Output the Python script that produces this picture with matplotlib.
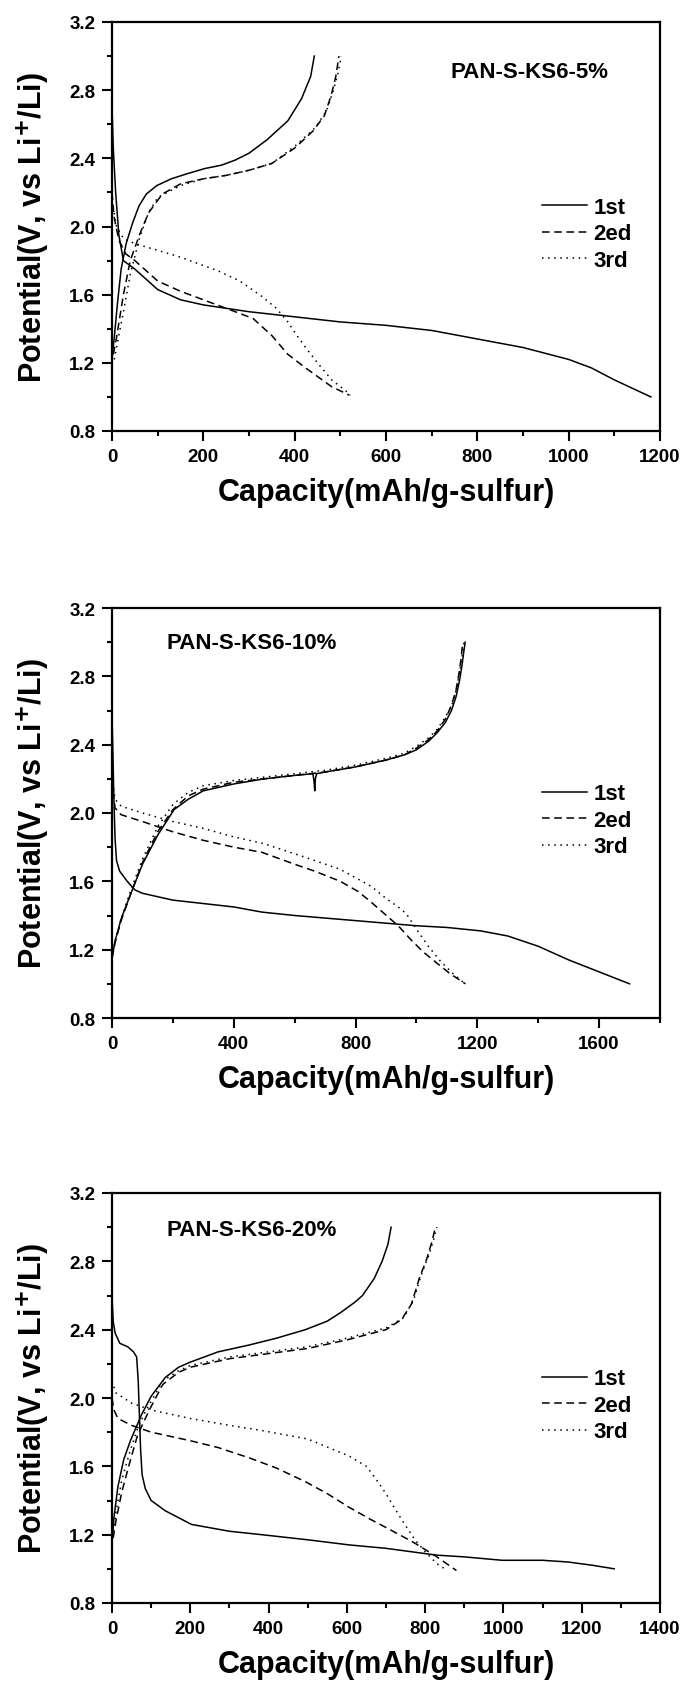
import matplotlib
matplotlib.use("Agg")
import matplotlib.pyplot as plt
from matplotlib.ticker import MultipleLocator, FormatStrFormatter

plt.rcParams['font.family'] = ['Liberation Sans', 'DejaVu Sans']
plt.rcParams['font.weight'] = 'bold'

# ---- PAN-S-KS6-5% ----
a_d1_x = [0, 3, 8, 15, 25, 50, 75, 100, 150, 200, 300, 400, 500, 600, 700, 800, 900, 1000, 1050, 1100, 1180]
a_d1_y = [2.70, 2.45, 2.2, 1.95, 1.80, 1.75, 1.69, 1.63, 1.57, 1.54, 1.50, 1.47, 1.44, 1.42, 1.39, 1.34, 1.29, 1.22, 1.17, 1.10, 1.00]
a_c1_x = [0, 5, 12, 20, 31, 45, 59, 75, 98, 130, 165, 203, 240, 270, 300, 340, 385, 415, 435, 443]
a_c1_y = [1.22, 1.35, 1.55, 1.75, 1.90, 2.02, 2.12, 2.19, 2.24, 2.28, 2.31, 2.34, 2.36, 2.39, 2.43, 2.51, 2.62, 2.75, 2.88, 3.00]
a_d2_x = [0, 5, 15, 30, 50, 75, 100, 150, 200, 250, 309, 350, 385, 424, 481, 520]
a_d2_y = [2.2, 2.05, 1.92, 1.84, 1.80, 1.74, 1.68, 1.62, 1.57, 1.52, 1.46, 1.36, 1.25, 1.17, 1.06, 1.01]
a_c2_x = [3, 10, 25, 40, 60, 80, 110, 150, 200, 250, 300, 350, 400, 440, 465, 480, 490, 497]
a_c2_y = [1.25, 1.35, 1.6, 1.8, 1.95, 2.08, 2.19, 2.25, 2.28, 2.30, 2.33, 2.37, 2.46, 2.56, 2.65, 2.77, 2.88, 3.0]
a_d3_x = [0, 10, 25, 50, 100, 150, 232, 280, 328, 360, 385, 405, 424, 450, 481, 510, 522]
a_d3_y = [2.15, 2.0, 1.93, 1.90, 1.86, 1.82, 1.74, 1.68, 1.59, 1.52, 1.44, 1.36, 1.29, 1.20, 1.10, 1.04, 1.01]
a_c3_x = [5, 12, 25, 40, 60, 80, 100, 150, 200, 250, 300, 350, 400, 445, 470, 485, 495, 502]
a_c3_y = [1.22, 1.32, 1.5, 1.72, 1.93, 2.08, 2.17, 2.24, 2.28, 2.30, 2.33, 2.37, 2.47, 2.58, 2.68, 2.8, 2.9, 3.0]

# ---- PAN-S-KS6-10% ----
b_d1_x = [0, 3, 6, 10, 15, 25, 50, 75, 100, 200, 300, 400, 492, 600, 800, 1000, 1100, 1211, 1300, 1400, 1500, 1600, 1700]
b_d1_y = [2.57, 2.35, 2.1, 1.85, 1.72, 1.66, 1.60, 1.55, 1.53, 1.49, 1.47, 1.45, 1.42, 1.40, 1.37, 1.34, 1.33, 1.31, 1.28, 1.22, 1.14, 1.07, 1.00]
b_c1_x = [0, 10, 30, 60, 100, 150, 204, 250, 300, 400, 500, 600, 660, 664, 666, 668, 672, 700, 800, 900, 960, 1000, 1040, 1068, 1095, 1115, 1130, 1142, 1150, 1156, 1160]
b_c1_y = [1.15, 1.25, 1.38, 1.52, 1.70, 1.87, 2.02, 2.08, 2.13, 2.17, 2.20, 2.22, 2.23, 2.18, 2.13, 2.2, 2.23, 2.24, 2.27, 2.31, 2.34, 2.37, 2.42, 2.47, 2.53, 2.60, 2.68, 2.78, 2.87, 2.95, 3.0]
b_d2_x = [0, 5, 10, 30, 100, 200, 300, 400, 492, 600, 665, 750, 809, 850, 895, 940, 981, 1020, 1068, 1110, 1161]
b_d2_y = [2.2, 2.1, 2.03, 1.99, 1.95, 1.89, 1.84, 1.80, 1.77, 1.70, 1.66, 1.60, 1.54, 1.48, 1.41, 1.34, 1.26, 1.19, 1.12, 1.06, 1.00]
b_c2_x = [0, 10, 30, 60, 100, 150, 200, 250, 300, 400, 500, 600, 700, 800, 900, 960, 1000, 1040, 1068, 1095, 1115, 1130, 1140, 1147, 1152]
b_c2_y = [1.15, 1.24, 1.37, 1.52, 1.71, 1.89, 2.02, 2.10, 2.14, 2.18, 2.20, 2.22, 2.24, 2.27, 2.31, 2.34, 2.38, 2.43, 2.48, 2.55, 2.63, 2.72, 2.82, 2.91, 3.0]
b_d3_x = [0, 5, 10, 30, 100, 200, 300, 400, 500, 636, 750, 852, 900, 940, 967, 1000, 1039, 1080, 1120, 1160]
b_d3_y = [2.25, 2.15, 2.08, 2.04, 2.00, 1.95, 1.91, 1.86, 1.82, 1.74, 1.67, 1.57, 1.50, 1.45, 1.41, 1.32, 1.22, 1.13, 1.06, 1.00]
b_c3_x = [0, 10, 30, 60, 100, 150, 200, 250, 300, 400, 500, 600, 700, 800, 900, 960, 1000, 1040, 1068, 1095, 1118, 1132, 1143, 1150, 1156]
b_c3_y = [1.15, 1.25, 1.38, 1.54, 1.73, 1.92, 2.05, 2.12, 2.16, 2.19, 2.21, 2.23, 2.25, 2.28, 2.32, 2.35, 2.39, 2.44, 2.49, 2.56, 2.64, 2.73, 2.83, 2.92, 3.0]

# ---- PAN-S-KS6-20% ----
c_d1_x = [0, 3, 8, 20, 40, 55, 63, 67, 70, 73, 77, 85, 100, 136, 203, 300, 382, 500, 606, 700, 830, 900, 997, 1100, 1165, 1230, 1283]
c_d1_y = [2.6, 2.45, 2.38, 2.32, 2.30, 2.27, 2.24, 2.1, 1.9, 1.7, 1.55, 1.47, 1.40, 1.34, 1.26, 1.22, 1.20, 1.17, 1.14, 1.12, 1.08, 1.07, 1.05, 1.05, 1.04, 1.02, 1.00]
c_c1_x = [0, 5, 15, 30, 47, 75, 100, 136, 170, 200, 271, 350, 420, 494, 550, 584, 620, 640, 670, 690, 705, 713]
c_c1_y = [1.15, 1.30, 1.48, 1.64, 1.75, 1.90, 2.01, 2.12, 2.18, 2.21, 2.27, 2.31, 2.35, 2.40, 2.45, 2.50, 2.56, 2.60, 2.70, 2.80, 2.90, 3.0]
c_d2_x = [0, 5, 15, 50, 100, 200, 271, 350, 420, 494, 550, 606, 660, 718, 774, 830, 880]
c_d2_y = [2.0, 1.93, 1.88, 1.84, 1.80, 1.75, 1.71, 1.65, 1.59, 1.51, 1.44, 1.36, 1.29, 1.22, 1.15, 1.07, 0.99]
c_c2_x = [3, 10, 25, 45, 65, 85, 100, 130, 170, 200, 300, 400, 500, 600, 700, 740, 765, 785, 805, 818, 826]
c_c2_y = [1.18, 1.28, 1.45, 1.62, 1.78, 1.88, 1.95, 2.08, 2.15, 2.18, 2.23, 2.26, 2.29, 2.34, 2.40, 2.46, 2.55, 2.70, 2.82, 2.92, 3.0]
c_d3_x = [0, 10, 50, 100, 200, 300, 382, 500, 606, 650, 673, 700, 718, 745, 774, 800, 830, 850]
c_d3_y = [2.10, 2.03, 1.97, 1.93, 1.88, 1.84, 1.81, 1.76, 1.66, 1.60, 1.53, 1.44, 1.37, 1.27, 1.17, 1.10, 1.03, 1.00]
c_c3_x = [3, 10, 25, 45, 65, 85, 100, 130, 170, 200, 300, 400, 500, 600, 700, 745, 770, 790, 810, 822, 830]
c_c3_y = [1.22, 1.33, 1.52, 1.68, 1.82, 1.92, 1.98, 2.10, 2.16, 2.19, 2.24, 2.27, 2.30, 2.35, 2.41, 2.47, 2.57, 2.72, 2.84, 2.93, 3.0]

titles = ['PAN-S-KS6-5%', 'PAN-S-KS6-10%', 'PAN-S-KS6-20%']
xmax = [1200, 1800, 1400]
xmajor = [200, 400, 200]
cycle_labels = ['1st', '2ed', '3rd']

panels = [
    [(a_d1_x, a_d1_y, a_c1_x, a_c1_y), (a_d2_x, a_d2_y, a_c2_x, a_c2_y), (a_d3_x, a_d3_y, a_c3_x, a_c3_y)],
    [(b_d1_x, b_d1_y, b_c1_x, b_c1_y), (b_d2_x, b_d2_y, b_c2_x, b_c2_y), (b_d3_x, b_d3_y, b_c3_x, b_c3_y)],
    [(c_d1_x, c_d1_y, c_c1_x, c_c1_y), (c_d2_x, c_d2_y, c_c2_x, c_c2_y), (c_d3_x, c_d3_y, c_c3_x, c_c3_y)],
]

styles = ['-', (0, (5, 3)), (0, (1, 3))]

W, H = 686, 1683
fig = plt.figure(figsize=(W / 100, H / 100), dpi=100)

# axes boxes in pixels: (top, bottom)
boxes = [(23, 432), (609, 1019), (1194, 1604)]
left, right = 112, 660
title_pos = [(0.617, 0.88), (0.10, 0.915), (0.10, 0.912)]

for i, (top, bot) in enumerate(boxes):
    ax = fig.add_axes([left / W, 1 - bot / H, (right - left) / W, (bot - top) / H])
    for j, (dx, dy, cx, cy) in enumerate(panels[i]):
        ax.plot(dx, dy, color='black', lw=1.1, ls=styles[j], label=cycle_labels[j])
        ax.plot(cx, cy, color='black', lw=1.1, ls=styles[j])
    ax.set_xlim(0, xmax[i])
    ax.set_ylim(0.8, 3.2)
    ax.xaxis.set_major_locator(MultipleLocator(xmajor[i]))
    ax.xaxis.set_minor_locator(MultipleLocator(xmajor[i] / 2))
    ax.yaxis.set_major_locator(MultipleLocator(0.4))
    ax.yaxis.set_minor_locator(MultipleLocator(0.2))
    ax.yaxis.set_major_formatter(FormatStrFormatter('%.1f'))
    ax.tick_params(which='major', direction='out', length=7, width=1.5, labelsize=13.5, pad=5)
    ax.tick_params(which='minor', direction='out', length=3.3, width=1.5)
    ax.tick_params(top=False, right=False)
    for s in ax.spines.values():
        s.set_linewidth(1.6)
    ax.set_xlabel('Capacity(mAh/g-sulfur)', fontsize=22, fontweight='bold', labelpad=9)
    ax.set_ylabel('Potential(V, vs Li$^{\\mathbf{+}}$/Li)', fontsize=22, fontweight='bold', labelpad=13)
    ax.text(title_pos[i][0], title_pos[i][1], titles[i], transform=ax.transAxes,
            fontsize=16, fontweight='bold', ha='left', va='center')
    ax.legend(loc='center left', bbox_to_anchor=(0.785, 0.482), frameon=False,
              fontsize=16, handlelength=2.0, handletextpad=0.3, labelspacing=0.25,
              borderpad=0, borderaxespad=0)

fig.savefig('out.png', dpi=100)
